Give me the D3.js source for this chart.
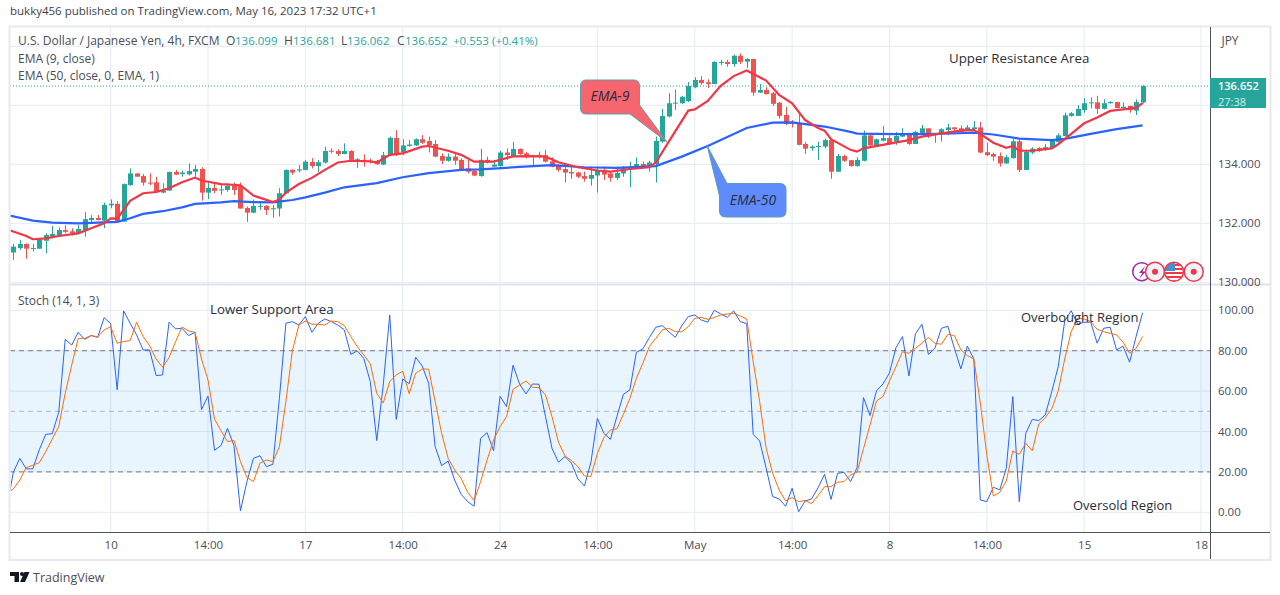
<!DOCTYPE html>
<html>
<head>
<meta charset="utf-8">
<title>USD/JPY 4h</title>
<script src="https://cdn.jsdelivr.net/npm/d3@7"></script>
<style>
  html, body { margin: 0; padding: 0; background: #fff; }
  svg { display: block; font-family: "Open Sans", "Noto Sans", sans-serif; }
</style>
</head>
<body>
<svg id="chart" width="1280" height="595"></svg>
<script>
// candles, one entry per 4h bar
const opens = [
  131.01,131.16,131.30,131.14,131.14,131.41,131.55,131.59,131.77,131.73,
  131.66,131.77,132.11,132.18,132.09,132.61,132.66,132.06,133.30,133.69,
  133.60,133.38,133.39,133.04,133.11,133.74,133.67,133.66,133.75,133.84,
  133.04,133.20,133.13,133.13,133.27,133.27,132.52,132.36,132.57,132.59,
  132.48,132.50,133.02,133.81,133.79,133.81,134.08,133.94,134.06,134.46,
  134.45,134.35,134.45,134.15,134.15,134.12,134.12,133.99,134.31,134.89,
  134.40,134.62,134.64,134.85,134.79,134.69,134.28,134.12,134.26,134.15,
  133.86,133.77,133.60,134.15,133.92,133.94,134.40,134.28,134.52,134.37,
  134.26,134.32,134.31,134.10,133.95,133.84,133.74,133.72,133.60,133.51,
  133.62,133.79,133.69,133.54,133.69,133.85,133.86,134.01,133.92,134.01,
  134.77,135.62,136.07,136.07,136.14,136.61,136.86,136.78,136.72,137.45,
  137.47,137.40,137.68,137.48,137.57,136.43,136.52,136.41,136.09,135.67,
  135.41,135.39,134.69,134.55,134.60,134.60,134.82,133.75,134.28,134.14,
  133.94,134.12,134.98,134.64,134.80,134.89,134.77,134.94,135.05,134.69,
  135.05,135.22,134.99,135.03,135.16,135.25,135.22,135.16,135.19,135.25,
  134.41,134.35,134.28,134.03,134.21,134.78,133.81,134.40,134.55,134.51,
  134.55,134.76,134.96,135.64,135.64,135.84,136.07,136.10,135.88,136.07,
  136.11,135.91,135.98,135.82,136.099
];
const highs = [
  131.30,131.44,131.32,131.30,131.49,131.66,131.91,131.86,131.93,131.83,
  131.94,132.38,132.28,132.28,132.70,132.81,132.75,133.35,133.86,133.70,
  133.67,133.69,133.58,133.36,133.75,133.81,133.79,134.03,133.98,133.90,
  133.36,133.36,133.30,133.36,133.38,133.38,132.57,132.81,132.70,132.62,
  132.62,133.19,133.83,133.83,133.98,134.15,134.21,134.15,134.60,134.54,
  134.51,134.71,134.48,134.21,134.34,134.20,134.15,134.42,134.94,135.16,
  134.85,134.82,134.88,134.99,134.94,134.82,134.37,134.37,134.37,134.20,
  134.15,133.81,134.53,134.26,134.15,134.46,134.54,134.76,134.54,134.42,
  134.32,134.43,134.49,134.24,134.01,133.92,133.92,133.75,133.75,133.92,
  133.92,133.92,133.75,133.92,133.94,134.09,134.23,134.09,134.12,134.94,
  135.88,136.41,136.54,136.32,136.79,136.95,136.99,136.88,137.49,137.54,
  137.54,137.72,137.76,137.60,137.58,136.72,136.61,136.46,136.11,135.95,
  135.50,135.71,134.76,134.64,134.77,134.87,134.85,134.35,134.32,134.15,
  134.24,135.14,135.07,134.87,135.30,134.98,135.10,135.22,135.07,135.14,
  135.33,135.22,135.05,135.22,135.37,135.26,135.32,135.33,135.47,135.44,
  134.73,134.40,134.40,134.32,134.85,134.85,134.49,134.58,134.58,134.69,
  134.85,135.05,135.75,135.77,136.01,136.24,136.27,136.32,136.20,136.14,
  136.12,136.10,135.98,136.20,136.681
];
const lows = [
  130.76,131.10,130.80,131.04,131.14,130.98,131.49,131.55,131.66,131.59,
  131.64,131.55,132.05,132.10,131.84,132.51,132.02,132.05,133.27,133.57,
  133.28,133.29,133.02,133.02,133.10,133.64,133.58,133.62,133.58,132.77,
  132.82,133.02,132.97,133.07,132.96,132.50,132.05,132.34,132.45,132.28,
  132.19,132.23,133.00,133.65,133.72,133.79,133.86,133.74,134.03,134.37,
  134.28,134.34,134.13,133.88,133.92,134.03,133.98,133.97,134.28,134.28,
  134.31,134.60,134.62,134.69,134.40,134.24,134.01,134.09,133.98,133.78,
  133.69,133.60,133.58,134.03,133.90,133.92,134.15,134.26,134.32,134.20,
  133.98,134.20,134.06,133.90,133.75,133.38,133.51,133.53,133.41,133.28,
  133.04,133.47,133.41,133.47,133.58,133.22,133.83,133.86,133.75,133.38,
  134.73,135.59,135.84,136.05,136.11,136.58,136.70,136.59,136.72,137.36,
  137.31,137.31,137.40,137.27,136.32,136.42,136.37,135.98,135.55,135.33,
  135.25,134.64,134.35,134.46,134.15,134.54,133.51,133.74,134.08,133.92,
  133.92,134.10,134.60,134.62,134.78,134.67,134.66,134.92,134.66,134.69,
  135.03,134.89,134.73,134.77,134.99,135.11,135.07,135.14,135.16,134.37,
  134.28,134.12,133.92,134.01,134.19,133.74,133.81,134.35,134.42,134.46,
  134.53,134.73,134.94,135.62,135.64,135.75,135.90,135.71,135.86,136.05,
  135.90,135.90,135.75,135.67,136.062
];
const closes = [
  131.21,131.30,131.14,131.16,131.46,131.60,131.64,131.77,131.71,131.66,
  131.81,132.14,132.18,132.11,132.62,132.66,132.06,133.33,133.69,133.58,
  133.38,133.36,133.06,133.11,133.74,133.65,133.72,133.77,133.84,133.04,
  133.20,133.10,133.15,133.27,133.13,132.50,132.36,132.59,132.59,132.45,
  132.51,133.02,133.81,133.72,133.83,134.09,133.94,134.07,134.45,134.43,
  134.35,134.45,134.15,134.17,134.10,134.09,134.00,134.31,134.90,134.33,
  134.64,134.67,134.85,134.73,134.64,134.26,134.12,134.26,134.12,133.83,
  133.75,133.62,134.15,134.06,133.99,134.40,134.31,134.52,134.35,134.24,
  134.28,134.26,134.09,133.92,133.81,133.72,133.69,133.58,133.51,133.64,
  133.79,133.65,133.54,133.71,133.86,133.88,134.01,133.92,134.06,134.79,
  135.64,136.07,136.09,136.29,136.66,136.86,136.75,136.72,137.47,137.47,
  137.40,137.68,137.47,137.57,136.43,136.52,136.38,136.05,135.64,135.37,
  135.39,134.66,134.53,134.60,134.62,134.82,133.75,134.28,134.12,133.94,
  134.15,134.98,134.64,134.85,134.89,134.69,134.96,135.05,134.69,135.10,
  135.22,134.94,135.05,135.19,135.25,135.19,135.10,135.25,135.25,134.40,
  134.31,134.26,134.03,134.24,134.78,133.81,134.42,134.53,134.46,134.58,
  134.80,134.98,135.66,135.73,135.88,136.07,136.10,135.88,136.07,136.11,
  135.91,135.95,135.84,136.11,136.652
];

// moving averages at their bends: bar number, price
const ema9Bars = [-1,2,3,5,7,10,12,14,15,16,17,18,20,22,24,26,28,29,32,35,37,40,41,42,44,46,48,50,52,55,56,58,60,63,64,67,69,71,74,77,80,82,84,87,90,92,95,98,99,101,104,105,107,109,111,113,116,118,120,122,124,125,126,129,130,131,135,138,140,143,146,148,149,151,153,154,155,157,160,161,163,165,167,169,172,173,174];
const ema9Values = [131.80,131.57,131.46,131.49,131.57,131.66,131.83,132.00,132.17,132.16,132.45,132.76,133.02,133.06,133.19,133.39,133.55,133.45,133.33,133.29,132.94,132.72,132.81,133.04,133.33,133.54,133.81,134.06,134.12,134.10,134.06,134.32,134.37,134.60,134.62,134.46,134.32,134.09,134.09,134.27,134.28,134.26,134.07,133.90,133.79,133.75,133.84,133.90,134.06,134.77,135.82,135.86,136.15,136.66,136.99,137.18,136.84,136.35,136.07,135.50,135.23,135.14,134.85,134.49,134.43,134.54,134.70,134.82,134.94,135.05,135.14,135.16,135.03,134.73,134.56,134.62,134.46,134.46,134.54,134.68,135.03,135.39,135.59,135.81,135.89,135.91,136.07];
const ema50Bars = [-1,3,6,10,16,18,20,23,26,28,32,34,37,40,43,45,48,51,56,60,64,69,72,78,83,88,93,99,103,107,113,117,120,125,129,130,136,141,148,151,155,160,162,166,170,174];
const ema50Values = [132.28,132.09,132.02,132.00,132.05,132.17,132.32,132.41,132.54,132.66,132.71,132.75,132.72,132.71,132.79,132.88,133.04,133.22,133.36,133.56,133.70,133.81,133.83,133.91,133.97,133.90,133.88,133.94,134.26,134.62,135.23,135.41,135.42,135.28,135.10,135.04,135.02,135.02,135.07,135.01,134.87,134.82,134.86,135.03,135.19,135.32];

// stochastic, first entry is the bar just left of the chart edge
const stochK = [
  2,19.8,26.7,21.5,21.5,30.9,38.6,38.9,49.5,85.6,82.8,
  89.1,85.6,87.5,86.6,96.4,93.4,60.7,99.7,93.6,87.8,
  80.4,80.4,67.7,68,94.1,90.8,91.1,87.5,89.1,50.8,
  57.6,30.7,33,41.6,33,0.7,15.2,26.7,28,22.6,
  23.8,56.4,93.6,94.4,92.7,96.9,89.1,93.6,95.7,94.4,
  92.7,90.3,78.2,79.9,76.2,64.7,35.5,63,97.7,46,
  66,63.7,76.7,72.4,63.9,32.5,23.1,25.4,16,8.9,
  5.3,3,36.6,39.4,30.5,57.4,52.3,72.8,63.5,58.6,
  63.5,63.4,47.4,31.7,24.8,27.6,24.3,16.5,13,24.8,
  46.5,39.1,36.1,47.4,58.4,60.6,79.2,80.9,86.5,91.6,
  92.4,89.4,86.6,92.4,96.9,97.7,95.2,94.1,100,98.2,
  96.5,99.7,94.4,93.4,38.6,35.3,21.8,7.8,6.6,3,
  11.9,0.3,5.6,6.6,12.2,18.8,6.4,19.3,19.8,15.2,
  22.1,56.8,47.9,60.1,63.5,69,81.5,87,67.5,88.4,
  93.1,78.2,81.2,91.1,92.1,81.2,71,82.3,75.9,6.1,
  5.3,12.4,11.1,21.8,57.3,5.3,39.1,46,45.4,48.2,
  59.7,72.1,94.7,99.8,93.1,94.1,94.1,83.7,91.1,91.6,
  80.4,82.2,74.3,87,98.8
];
const stochD = [
  9.5,11.6,16,22.1,23.3,24.6,30,36.3,42.4,58.9,72.9,
  86.1,86.1,87.5,86.8,90.3,91.9,83.7,84.5,85,94.1,
  87,82.5,75.9,71.8,76.6,84.5,91.7,89.8,89.1,75.9,
  65.5,46.2,40.4,35,35.6,25.1,17.3,15.2,24.3,25.9,
  25.1,32.5,54.8,80,92.7,94.7,93.1,93.1,92.7,94.7,
  94.4,92.4,87,82,77.9,73.6,58.9,54.1,64.7,68,
  69.8,58.7,68.8,71,70.8,54.8,39.1,26.7,21,16.8,
  9.9,5.8,15.2,25.9,35.8,42.4,47.4,60.9,63,65,
  61.9,61.7,58.1,47.4,34.7,27.9,25.6,22.6,18,17.8,
  29.2,37,40.8,41.3,48.5,56.4,66.3,73.8,82,86.1,
  90.3,91.1,89.4,89.4,91.9,96,96.5,95.5,96.4,97.7,
  98.2,98.5,97.2,95.7,74.6,54.8,31.7,19.3,11.1,5.6,
  7.3,5.3,5.8,4.3,8.3,12.7,12.7,14.9,15.2,18.5,
  19.8,31.5,43.2,55.1,57.3,65,72.1,79.5,78.7,81.2,
  83.7,86.6,83.7,83.2,88.1,87.5,80.4,77.6,75.9,54,
  28.4,8.1,9.9,15.5,30.4,28.7,34.2,30.4,43.7,46.9,
  51.2,60.1,75.9,89.4,96,95.7,94.4,90.6,89.4,88.6,
  87.8,84.2,78.7,81.2,87
];

// axes
const timeTickBars = [15,30,45,60,75,90,105,120,135,150,165,183];
const timeTickLabels = ['10','14:00','17','14:00','24','14:00','May','14:00','8','14:00','15','18'];
const priceGrid = [130,132,134,136,138];
const priceTicks = [130,132,134];
const stochTicks = [0,20,40,60,80,100];
const lastPrice = 136.652;

const GREEN = '#26a69a', RED = '#ef5350', GRID = '#e3ebf2', TEXT = '#4a4d57';

const x = d3.scaleLinear().domain([0, 183]).range([13.3, 1201]);
const yPrice = d3.scaleLinear().domain([130, 138]).range([282.3, 46.3]);
const yStoch = d3.scaleLinear().domain([0, 100]).range([512.3, 310.3]);

const svg = d3.select('#chart');

// clip for each pane
const defs = svg.append('defs');
defs.append('clipPath').attr('id', 'clipTop').append('rect')
  .attr('x', 10.5).attr('y', 27).attr('width', 1200).attr('height', 257);
defs.append('clipPath').attr('id', 'clipBottom').append('rect')
  .attr('x', 10.5).attr('y', 286).attr('width', 1200).attr('height', 246);
defs.append('clipPath').attr('id', 'clipFlag').append('circle')
  .attr('cx', 1174).attr('cy', 271.7).attr('r', 9);

// grid
const grid = svg.append('g');
grid.selectAll('.vgrid').data(timeTickBars).enter().append('line')
  .attr('x1', d => x(d)).attr('x2', d => x(d))
  .attr('y1', 27).attr('y2', 532)
  .attr('stroke', GRID);
grid.selectAll('.hgridp').data(priceGrid).enter().append('line')
  .attr('x1', 10).attr('x2', 1210)
  .attr('y1', d => yPrice(d)).attr('y2', d => yPrice(d))
  .attr('stroke', GRID);
grid.selectAll('.hgrids').data(stochTicks).enter().append('line')
  .attr('x1', 10).attr('x2', 1210)
  .attr('y1', d => yStoch(d)).attr('y2', d => yStoch(d))
  .attr('stroke', GRID);

// price pane
const pricePane = svg.append('g').attr('clip-path', 'url(#clipTop)');

pricePane.append('line')
  .attr('x1', 10).attr('x2', 1210)
  .attr('y1', yPrice(lastPrice)).attr('y2', yPrice(lastPrice))
  .attr('stroke', GREEN).attr('stroke-dasharray', '1 2');

const candles = pricePane.selectAll('.candle').data(opens).enter().append('g')
  .attr('fill', (d, i) => closes[i] >= d ? GREEN : RED);
candles.append('rect')
  .attr('x', (d, i) => Math.round(x(i))).attr('width', 1)
  .attr('y', (d, i) => yPrice(highs[i]))
  .attr('height', (d, i) => yPrice(lows[i]) - yPrice(highs[i]));
candles.append('rect')
  .attr('x', (d, i) => Math.round(x(i)) - 2).attr('width', 5)
  .attr('y', (d, i) => yPrice(Math.max(d, closes[i])))
  .attr('height', (d, i) => Math.max(1, Math.abs(yPrice(d) - yPrice(closes[i]))));

const priceLine = d3.line().x(d => x(d[0])).y(d => yPrice(d[1]));
pricePane.append('path')
  .attr('d', priceLine(d3.zip(ema50Bars, ema50Values)))
  .attr('fill', 'none').attr('stroke', '#2962ff').attr('stroke-width', 2.2);
pricePane.append('path')
  .attr('d', priceLine(d3.zip(ema9Bars, ema9Values)))
  .attr('fill', 'none').attr('stroke', '#f23645').attr('stroke-width', 2.2);

// stochastic pane
const stochPane = svg.append('g').attr('clip-path', 'url(#clipBottom)');
stochPane.append('rect')
  .attr('x', 10).attr('width', 1200)
  .attr('y', yStoch(80)).attr('height', yStoch(20) - yStoch(80))
  .attr('fill', '#2196f3').attr('opacity', 0.1);
[[80, '#787b86'], [50, '#b2b5be'], [20, '#787b86']].forEach(level => {
  stochPane.append('line')
    .attr('x1', 10).attr('x2', 1210)
    .attr('y1', yStoch(level[0])).attr('y2', yStoch(level[0]))
    .attr('stroke', level[1]).attr('stroke-dasharray', '5 4');
});
const stochLine = d3.line().x((d, i) => x(i - 1)).y(d => yStoch(d));
stochPane.append('path').attr('d', stochLine(stochK))
  .attr('fill', 'none').attr('stroke', '#2962ff').attr('stroke-width', 1);
stochPane.append('path').attr('d', stochLine(stochD))
  .attr('fill', 'none').attr('stroke', '#ff6d00').attr('stroke-width', 1);

// frame and axis lines
svg.append('rect').attr('x', 9.5).attr('y', 26.5).attr('width', 1261).attr('height', 533.5)
  .attr('fill', 'none').attr('stroke', '#e6e9f0').attr('stroke-width', 2);
svg.append('line').attr('x1', 10).attr('x2', 1270).attr('y1', 284.5).attr('y2', 284.5)
  .attr('stroke', '#e0e3eb').attr('stroke-width', 2);
svg.append('line').attr('x1', 10).attr('x2', 1270).attr('y1', 532.5).attr('y2', 532.5)
  .attr('stroke', '#50535e');
svg.append('line').attr('x1', 1210.5).attr('x2', 1210.5).attr('y1', 27).attr('y2', 559)
  .attr('stroke', '#50535e');

// axes
const priceAxis = d3.axisRight(yPrice).tickValues(priceTicks).tickSize(0).tickPadding(0)
  .tickFormat(d3.format('.3f'));
const stochAxis = d3.axisRight(yStoch).tickValues(stochTicks).tickSize(0).tickPadding(0)
  .tickFormat(d3.format('.2f'));
const timeAxis = d3.axisBottom(x).tickValues(timeTickBars).tickSize(0).tickPadding(0)
  .tickFormat((d, i) => timeTickLabels[i]);
[
  svg.append('g').attr('transform', 'translate(1218,0)').call(priceAxis),
  svg.append('g').attr('transform', 'translate(1218,0)').call(stochAxis),
  svg.append('g').attr('transform', 'translate(0,541)').call(timeAxis)
].forEach(g => {
  g.select('.domain').remove();
  g.selectAll('text').attr('fill', TEXT).attr('font-size', 11.5)
    .attr('font-family', '"Open Sans", "Noto Sans", sans-serif');
});

// last price tag
svg.append('rect').attr('x', 1210).attr('y', 78).attr('width', 56).attr('height', 30).attr('fill', GREEN);
svg.append('text').attr('x', 1218).attr('y', 90).attr('fill', '#fff')
  .attr('font-size', 11).attr('font-weight', 600).text(lastPrice.toFixed(3));
svg.append('text').attr('x', 1218).attr('y', 105.5).attr('fill', '#d4eeeb')
  .attr('font-size', 11).text('27:38');
svg.append('text').attr('x', 1230).attr('y', 45).attr('text-anchor', 'middle')
  .attr('fill', TEXT).attr('font-size', 12).text('JPY');

// header and legends
const addText = (px, py, str, fill, size) => svg.append('text')
  .attr('x', px).attr('y', py).attr('fill', fill || TEXT).attr('font-size', size || 12).text(str);

addText(10, 15, 'bukky456 published on TradingView.com, May 16, 2023 17:32 UTC+1', '#3c3f4a', 11.5);
addText(18, 45, 'U.S. Dollar / Japanese Yen, 4h, FXCM');
[[226, 'O', 235, '136.099'], [284, 'H', 293, '136.681'], [341, 'L', 347, '136.062'], [397, 'C', 405, '136.652']].forEach(d => {
  addText(d[0], 45, d[1]);
  addText(d[2], 45, d[3], GREEN, 11.5);
});
addText(453, 45, '+0.553', GREEN, 11.5);
addText(492, 45, '(+0.41%)', GREEN, 11.5);
addText(18, 63, 'EMA (9, close)');
addText(18, 80, 'EMA (50, close, 0, EMA, 1)');
addText(18, 305, 'Stoch (14, 1, 3)');

// text notes on the chart
addText(949, 63, 'Upper Resistance Area', '#2a2e39', 13.3);
addText(210, 314, 'Lower Support Area', '#2a2e39', 13.3);
addText(1021, 322, 'Overbought Region', '#2a2e39', 13);
addText(1073, 510, 'Oversold Region', '#2a2e39', 13);

// callouts
const callout = (d, fill, label, tx, ty) => {
  svg.append('path').attr('d', d).attr('fill', fill).attr('stroke', '#5b9eb0').attr('stroke-width', 1);
  svg.append('text').attr('x', tx).attr('y', ty).attr('text-anchor', 'middle')
    .attr('font-style', 'italic').attr('font-size', 14).attr('fill', '#2a2e39').text(label);
};
callout('M586,80 H634 Q639.5,80 639.5,86 V105 L667,142 L630,114 H586 Q580.5,114 580.5,108 V86 Q580.5,80 586,80 Z',
  '#f7656f', 'EMA-9', 610, 101);
callout('M727,183.5 H780 Q786,183.5 786,189.5 V211 Q786,217 780,217 H725.5 Q719.5,217 719.5,211 V196 L707.3,146 L727,183.5 Z',
  '#5f8bfd', 'EMA-50', 753, 204.5);

// indicator badges bottom right
svg.append('circle').attr('cx', 1141.7).attr('cy', 271.7).attr('r', 9)
  .attr('fill', '#fff').attr('stroke', '#9c27b0').attr('stroke-width', 1.5);
svg.append('path').attr('d', 'M1145,266 L1139,273 H1142.5 L1139,279 L1146,271.5 H1142.5 Z').attr('fill', '#9c27b0');
[1155, 1193.7].forEach(cx => {
  svg.append('circle').attr('cx', cx).attr('cy', 271.7).attr('r', 9.5)
    .attr('fill', '#f0f3fa').attr('stroke', '#f23645').attr('stroke-width', 1.5);
  svg.append('circle').attr('cx', cx).attr('cy', 271.7).attr('r', 3).attr('fill', '#f23645');
});
const flag = svg.append('g').attr('clip-path', 'url(#clipFlag)');
flag.append('rect').attr('x', 1164).attr('y', 262).attr('width', 20).attr('height', 20).attr('fill', '#fff');
d3.range(0, 5).forEach(k => {
  flag.append('rect').attr('x', 1164).attr('y', 264 + k * 4).attr('width', 20).attr('height', 2).attr('fill', '#f23645');
});
flag.append('rect').attr('x', 1164).attr('y', 262).attr('width', 11).attr('height', 9).attr('fill', '#4a90d9');
svg.append('circle').attr('cx', 1174).attr('cy', 271.7).attr('r', 9.5)
  .attr('fill', 'none').attr('stroke', '#f23645').attr('stroke-width', 1.5);

// logo and brand
svg.append('path').attr('d', 'M10,572 H19 V582 H14.5 V576 H10 Z M22,572 a2,2 0 1 1 0,4 a2,2 0 1 1 0,-4 Z M24.5,572 H29.5 L25,582 H20 Z')
  .attr('fill', '#131722');
addText(33, 582, 'TradingView', '#4a4d57', 12.5);
</script>
</body>
</html>
